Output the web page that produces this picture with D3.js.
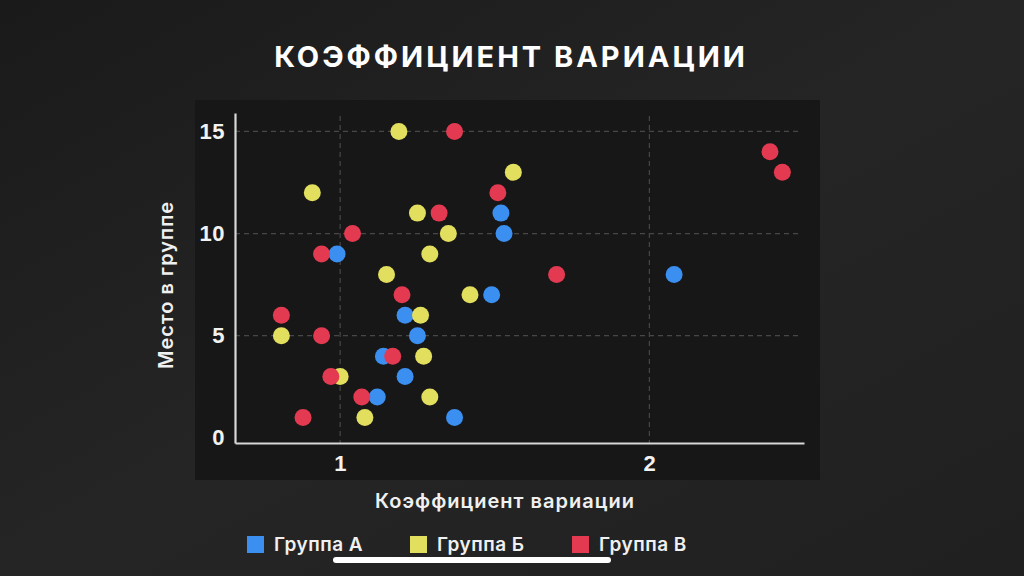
<!DOCTYPE html>
<html>
<head>
<meta charset="utf-8">
<script src="https://cdn.jsdelivr.net/npm/d3@7"></script>
<style>
  body { margin: 0; background: #1f1f1f; }
  svg { display: block; font-family: "Inter", "Open Sans", sans-serif; }
</style>
</head>
<body>
<svg width="1024" height="576"></svg>
<script>
// data: [coefficient, place]
const groupA = [[0.99, 9], [1.21, 6], [1.25, 5], [1.14, 4], [1.21, 3], [1.12, 2], [1.37, 1],
  [1.52, 11], [1.53, 10], [1.49, 7], [2.08, 8]];
const groupB = [[1.19, 15], [0.91, 12], [1.25, 11], [1.35, 10], [1.29, 9], [1.15, 8], [1.42, 7],
  [1.26, 6], [0.81, 5], [1.27, 4], [1.0, 3], [1.29, 2], [1.08, 1], [1.56, 13]];
const groupC = [[1.37, 15], [1.32, 11], [1.04, 10], [0.94, 9], [1.2, 7], [0.81, 6], [0.94, 5],
  [1.17, 4], [0.97, 3], [1.07, 2], [0.88, 1], [1.51, 12], [1.7, 8], [2.39, 14], [2.43, 13]];

const seriesNames = ["Группа А", "Группа Б", "Группа В"];
const seriesColors = ["#3a8ff0", "#e2df5f", "#e33a52"];
const xTicks = [1, 2];
const yTicks = [0, 5, 10, 15];

const svg = d3.select("svg");

// background shading
const defs = svg.append("defs");
const grad = defs.append("linearGradient").attr("id", "bg")
  .attr("x1", "0").attr("y1", "0").attr("x2", "1").attr("y2", "1");
grad.append("stop").attr("offset", "0").attr("stop-color", "#1a1a1a");
grad.append("stop").attr("offset", "0.5").attr("stop-color", "#252525");
grad.append("stop").attr("offset", "1").attr("stop-color", "#202020");
svg.append("rect").attr("width", 1024).attr("height", 576).attr("fill", "url(#bg)");

// plot panel
svg.append("rect")
  .attr("x", 195).attr("y", 100).attr("width", 625).attr("height", 380)
  .attr("fill", "#171717");

const x = d3.scaleLinear().domain([0.66, 2.5]).range([235, 804]);
const y = d3.scaleLinear().domain([-0.25, 15.9]).range([443, 113]);

// grid
svg.append("g").selectAll("line")
  .data(yTicks.filter(d => d > 0))
  .join("line")
  .attr("x1", 235).attr("x2", 800)
  .attr("y1", d => y(d)).attr("y2", d => y(d))
  .attr("stroke", "#474747").attr("stroke-width", 1.2)
  .attr("stroke-dasharray", "5,4");

svg.append("g").selectAll("line")
  .data(xTicks)
  .join("line")
  .attr("x1", d => x(d)).attr("x2", d => x(d))
  .attr("y1", 116).attr("y2", 443)
  .attr("stroke", "#474747").attr("stroke-width", 1.2)
  .attr("stroke-dasharray", "5,4");

// axes
const xAxis = svg.append("g")
  .attr("transform", "translate(0,443)")
  .call(d3.axisBottom(x).tickValues(xTicks).tickFormat(d3.format("d")).tickSize(0).tickPadding(12));
const yAxis = svg.append("g")
  .attr("transform", "translate(235,0)")
  .call(d3.axisLeft(y).tickValues(yTicks).tickFormat(d3.format("d")).tickSize(0).tickPadding(10));

[xAxis, yAxis].forEach(a => {
  a.select(".domain").attr("stroke", "#d8d8d8").attr("stroke-width", 2.2);
  a.selectAll("text").attr("fill", "#f2f2f2").attr("font-size", 22).attr("font-weight", 700)
    .attr("letter-spacing", 0.5);
});

// points
const groups = [groupA, groupB, groupC];
groups.forEach((g, i) => {
  svg.append("g").selectAll("circle")
    .data(g)
    .join("circle")
    .attr("cx", d => x(d[0]))
    .attr("cy", d => y(d[1]))
    .attr("r", 8.5)
    .attr("fill", seriesColors[i]);
});

// title and axis labels
svg.append("text")
  .attr("x", 511).attr("y", 67)
  .attr("text-anchor", "middle")
  .attr("fill", "#ffffff").attr("font-size", 29).attr("font-weight", 700)
  .attr("letter-spacing", 3)
  .text("КОЭФФИЦИЕНТ ВАРИАЦИИ");

svg.append("text")
  .attr("x", 505).attr("y", 508)
  .attr("text-anchor", "middle")
  .attr("fill", "#f0f0f0").attr("font-size", 20).attr("font-weight", 600)
  .attr("letter-spacing", 1)
  .text("Коэффициент вариации");

svg.append("text")
  .attr("transform", "translate(173,285) rotate(-90)")
  .attr("text-anchor", "middle")
  .attr("fill", "#f0f0f0").attr("font-size", 20).attr("font-weight", 600)
  .attr("letter-spacing", 1)
  .text("Место в группе");

// legend
const legendX = [247, 410, 572];
const legend = svg.append("g").selectAll("g")
  .data(seriesNames)
  .join("g")
  .attr("transform", (d, i) => `translate(${legendX[i]},536)`);
legend.append("rect")
  .attr("width", 17).attr("height", 17)
  .attr("fill", (d, i) => seriesColors[i]);
legend.append("text")
  .attr("x", 27).attr("y", 15)
  .attr("fill", "#f0f0f0").attr("font-size", 19).attr("font-weight", 600)
  .attr("letter-spacing", 0.5)
  .text(d => d);

// home indicator bar at the bottom of the screenshot
svg.append("rect")
  .attr("x", 333).attr("y", 557).attr("width", 278).attr("height", 6).attr("rx", 3)
  .attr("fill", "#ffffff");
</script>
</body>
</html>
